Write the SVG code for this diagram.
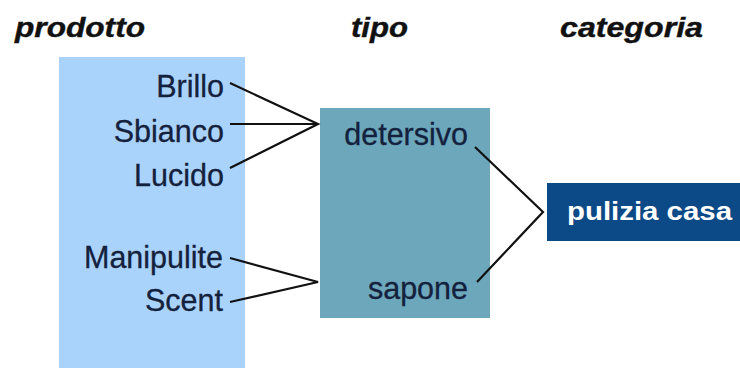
<svg xmlns="http://www.w3.org/2000/svg" width="740" height="368" viewBox="0 0 740 368">
  <style>
    .title { font-family: "Liberation Sans", Arial, sans-serif; font-weight: bold; font-style: italic; font-size: 27px; fill: #111111; stroke: #111111; stroke-width: 0.4; }
    .lbl { font-family: "Liberation Sans", Arial, sans-serif; font-size: 30.5px; fill: #14213d; text-anchor: end; stroke: #14213d; stroke-width: 0.3; }
    .cat { font-family: "Liberation Sans", Arial, sans-serif; font-weight: bold; font-size: 26px; fill: #ffffff; }
    .link { fill: none; stroke: #111111; stroke-width: 2.2; stroke-linejoin: miter; }
  </style>

  <rect width="740" height="368" fill="#ffffff"/>

  <!-- column headings -->
  <g id="headings">
    <text class="title" x="15" y="37" textLength="130" lengthAdjust="spacingAndGlyphs">prodotto</text>
    <text class="title" x="351" y="37" textLength="57" lengthAdjust="spacingAndGlyphs">tipo</text>
    <text class="title" x="560" y="37" textLength="143" lengthAdjust="spacingAndGlyphs">categoria</text>
  </g>

  <!-- products -->
  <g id="prodotto">
    <rect x="59" y="57" width="186" height="311" fill="#aad3fb"/>
    <text class="lbl" x="224" y="97">Brillo</text>
    <text class="lbl" x="224" y="142">Sbianco</text>
    <text class="lbl" x="224" y="186">Lucido</text>
    <text class="lbl" x="223" y="268">Manipulite</text>
    <text class="lbl" x="223" y="311">Scent</text>
  </g>

  <!-- types -->
  <g id="tipo">
    <rect x="320" y="108" width="170" height="210" fill="#6ca7bc"/>
    <text class="lbl" x="468" y="145">detersivo</text>
    <text class="lbl" x="468" y="299">sapone</text>
  </g>

  <!-- category -->
  <g id="categoria">
    <rect x="547" y="183" width="193" height="58" fill="#0c4a87"/>
    <text class="cat" x="567" y="220" textLength="165" lengthAdjust="spacingAndGlyphs">pulizia casa</text>
  </g>

  <!-- connectors -->
  <g id="connectors">
    <polyline class="link" points="230,83 318,124 230,168"/>
    <line class="link" x1="230" y1="124" x2="318" y2="124"/>
    <polyline class="link" points="230,258 318,282 230,302"/>
    <polyline class="link" points="475,147 543,212 477,282"/>
  </g>
</svg>
